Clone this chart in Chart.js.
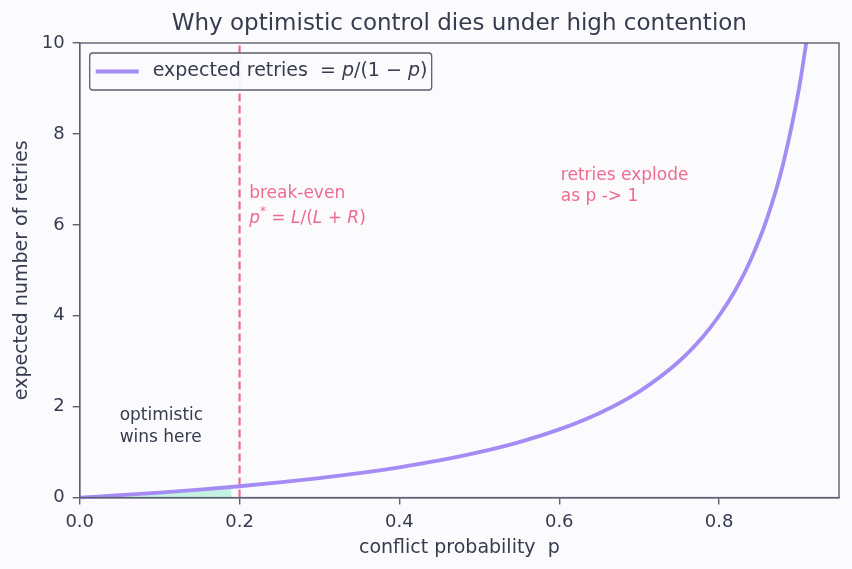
<!DOCTYPE html>
<html>
<head>
<meta charset="utf-8">
<script src="https://cdn.jsdelivr.net/npm/chart.js@4/dist/chart.umd.min.js"></script>
<style>
  html, body { margin: 0; padding: 0; background: #fbfbfe; }
  #wrap { width: 852px; height: 569px; }
</style>
</head>
<body>
<div id="wrap"><canvas id="chart" width="852" height="569"></canvas></div>
<script>
// values
const pValues = [0, 0.05, 0.1, 0.15, 0.2, 0.25, 0.3, 0.35, 0.4, 0.45, 0.5, 0.55, 0.6, 0.65, 0.7, 0.75, 0.78, 0.8, 0.82, 0.84, 0.86, 0.88, 0.9, 0.909];
const retries = [0, 0.053, 0.111, 0.176, 0.25, 0.333, 0.429, 0.538, 0.667, 0.818, 1.0, 1.222, 1.5, 1.857, 2.333, 3.0, 3.545, 4.0, 4.556, 5.25, 6.143, 7.333, 9.0, 10.0];
const winsP = [0, 0.05, 0.1, 0.15, 0.19];
const winsRetries = [0, 0.053, 0.111, 0.176, 0.235];
const breakEvenP = 0.2;
const xTicks = [0, 0.2, 0.4, 0.6, 0.8];
const yTicks = [0, 2, 4, 6, 8, 10];
const chartTitle = 'Why optimistic control dies under high contention';

const FONT = "'DejaVu Sans', sans-serif";
const INK = '#363b4e';
const AXIS = '#5c5f70';
const PURPLE = '#a48cf4';
const PINK = '#ef6b8c';

const curve = pValues.map((p, i) => ({ x: p, y: retries[i] }));
const wins = winsP.map((p, i) => ({ x: p, y: winsRetries[i] }));

// title over the axes, frame, legend and annotations
const decor = {
    id: 'decor',
    afterDatasetsDraw(chart) {
        const { ctx, chartArea: a, scales: { x, y } } = chart;
        ctx.save();
        ctx.fillStyle = INK;
        ctx.font = '23px ' + FONT;
        ctx.textAlign = 'center';
        ctx.textBaseline = 'middle';
        ctx.fillText(chartTitle, (a.left + a.right) / 2, 24);
        ctx.textAlign = 'left';

        ctx.strokeStyle = AXIS;
        ctx.lineWidth = 1.4;
        ctx.strokeRect(a.left, a.top, a.right - a.left, a.bottom - a.top);

        // legend box
        const lx = a.left + 10, ly = a.top + 10, lw = 342, lh = 37;
        ctx.fillStyle = 'rgba(251,251,254,0.9)';
        ctx.strokeStyle = AXIS;
        ctx.lineWidth = 1.3;
        ctx.beginPath();
        ctx.roundRect(lx, ly, lw, lh, 3);
        ctx.fill();
        ctx.stroke();
        ctx.strokeStyle = PURPLE;
        ctx.lineWidth = 4;
        ctx.beginPath();
        ctx.moveTo(lx + 6, ly + lh / 2);
        ctx.lineTo(lx + 49, ly + lh / 2);
        ctx.stroke();
        ctx.fillStyle = INK;
        let tx = lx + 63;
        const ty = ly + lh / 2;
        const parts = [
            ['expected retries  = ', false],
            ['p', true], ['/(1 \u2212 ', false], ['p', true], [')', false]
        ];
        parts.forEach(([s, it]) => {
            ctx.font = (it ? 'italic ' : '') + '19px ' + FONT;
            ctx.fillText(s, tx, ty);
            tx += ctx.measureText(s).width;
        });

        // annotations
        ctx.font = '17px ' + FONT;
        ctx.fillStyle = PINK;
        ctx.fillText('break-even', x.getPixelForValue(0.212), y.getPixelForValue(6.69));
        let px = x.getPixelForValue(0.212), py = y.getPixelForValue(6.14);
        const pl = [['p', true, 17], ['*', false, 12], [' = ', false, 17], ['L', true, 17], ['/(', false, 17], ['L', true, 17], [' + ', false, 17], ['R', true, 17], [')', false, 17]];
        pl.forEach(([s, it, sz]) => {
            ctx.font = (it ? 'italic ' : '') + sz + 'px ' + FONT;
            ctx.fillText(s, px, sz < 17 ? py - 7 : py);
            px += ctx.measureText(s).width;
        });
        ctx.font = '17px ' + FONT;
        ctx.fillText('retries explode', x.getPixelForValue(0.602), y.getPixelForValue(7.09));
        ctx.fillText('as p -> 1', x.getPixelForValue(0.602), y.getPixelForValue(6.62));
        ctx.fillStyle = INK;
        ctx.fillText('optimistic', x.getPixelForValue(0.05), y.getPixelForValue(1.81));
        ctx.fillText('wins here', x.getPixelForValue(0.05), y.getPixelForValue(1.32));
        ctx.restore();
    }
};

const bg = {
    id: 'bg',
    beforeDraw(chart) {
        const ctx = chart.ctx;
        ctx.save();
        ctx.fillStyle = '#fbfbfe';
        ctx.fillRect(0, 0, chart.width, chart.height);
        ctx.restore();
    }
};

new Chart(document.getElementById('chart'), {
    type: 'scatter',
    data: {
        datasets: [
            {
                label: 'wins',
                data: wins,
                showLine: true,
                borderWidth: 0,
                pointRadius: 0,
                backgroundColor: 'rgba(110, 231, 183, 0.38)',
                fill: 'origin',
                order: 3
            },
            {
                label: 'break-even',
                data: [{ x: breakEvenP, y: 0 }, { x: breakEvenP, y: 10 }],
                showLine: true,
                borderColor: PINK,
                borderWidth: 2.2,
                borderDash: [8, 4],
                pointRadius: 0,
                order: 2
            },
            {
                label: 'expected retries = p/(1 - p)',
                data: curve,
                showLine: true,
                borderColor: PURPLE,
                borderWidth: 3.8,
                pointRadius: 0,
                cubicInterpolationMode: 'monotone',
                clip: 2,
                order: 1
            }
        ]
    },
    options: {
        responsive: false,
        animation: false,
        devicePixelRatio: 1,
        layout: { padding: { left: 11, right: 13, top: 43, bottom: 10 } },
        plugins: {
            legend: { display: false },
            tooltip: { enabled: false },
            title: { display: false }
        },
        scales: {
            x: {
                type: 'linear',
                min: 0,
                max: 0.95,
                afterBuildTicks(axis) { axis.ticks = xTicks.map(v => ({ value: v })); },
                ticks: {
                    color: INK,
                    font: { family: FONT, size: 18 },
                    padding: 7,
                    maxRotation: 0,
                    callback: v => v.toFixed(1)
                },
                grid: { drawOnChartArea: false, drawTicks: true, tickLength: 7, color: AXIS, lineWidth: 1.4 },
                border: { display: true, color: AXIS, width: 1.4 },
                title: {
                    display: true,
                    text: 'conflict probability  p',
                    color: INK,
                    font: { family: FONT, size: 19 },
                    padding: { top: -4, bottom: 0 }
                }
            },
            y: {
                min: 0,
                max: 10,
                afterBuildTicks(axis) { axis.ticks = yTicks.map(v => ({ value: v })); },
                ticks: {
                    color: INK,
                    font: { family: FONT, size: 18 },
                    padding: 8
                },
                grid: { drawOnChartArea: false, drawTicks: true, tickLength: 7, color: AXIS, lineWidth: 1.4 },
                border: { display: true, color: AXIS, width: 1.4 },
                title: {
                    display: true,
                    text: 'expected number of retries',
                    color: INK,
                    font: { family: FONT, size: 19 },
                    padding: { top: 0, bottom: 0 }
                }
            }
        }
    },
    plugins: [bg, decor]
});
</script>
</body>
</html>
